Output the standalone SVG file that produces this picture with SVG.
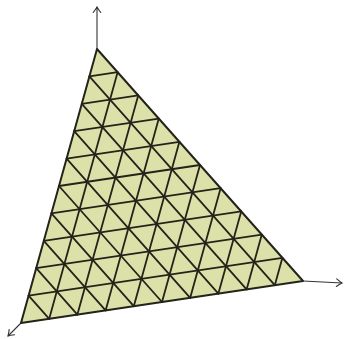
<svg xmlns="http://www.w3.org/2000/svg" width="345" height="339" viewBox="0 0 345 339">
  <style>
    .axis { stroke: #333; stroke-width: 1.1; fill: none; }
    .grid line { stroke: #23231a; stroke-width: 1.8; stroke-linecap: round; }
    .tri { fill: #dce1aa; stroke: #23231a; stroke-width: 2; stroke-linejoin: round; }
  </style>
  <defs>
    <marker id="arr" markerUnits="userSpaceOnUse" viewBox="-7 -5 9 10" markerWidth="9" markerHeight="10" refX="0" refY="0" orient="auto">
      <path d="M-5.5,-3.8 Q-1.8,-0.9 0,0 Q-1.8,0.9 -5.5,3.8" fill="none" stroke="#333" stroke-width="1.1" stroke-linecap="round"/>
    </marker>
  </defs>
  <g id="axes">
    <line class="axis" x1="97" y1="49" x2="97" y2="7" marker-end="url(#arr)"/>
    <line class="axis" x1="303" y1="281" x2="342" y2="283" marker-end="url(#arr)"/>
    <line class="axis" x1="21" y1="323" x2="8" y2="336" marker-end="url(#arr)"/>
  </g>
  <g id="triangle">
    <polygon class="tri" points="97,49 303,281 21,323"/>
  </g>
  <g id="grid" class="grid">
    <line x1="89.4" y1="76.4" x2="117.6" y2="72.2"/>
    <line x1="81.8" y1="103.8" x2="138.2" y2="95.4"/>
    <line x1="74.2" y1="131.2" x2="158.8" y2="118.6"/>
    <line x1="66.6" y1="158.6" x2="179.4" y2="141.8"/>
    <line x1="59" y1="186" x2="200" y2="165"/>
    <line x1="51.4" y1="213.4" x2="220.6" y2="188.2"/>
    <line x1="43.8" y1="240.8" x2="241.2" y2="211.4"/>
    <line x1="36.2" y1="268.2" x2="261.8" y2="234.6"/>
    <line x1="28.6" y1="295.6" x2="282.4" y2="257.8"/>

    <line x1="282.4" y1="257.8" x2="274.8" y2="285.2"/>
    <line x1="261.8" y1="234.6" x2="246.6" y2="289.4"/>
    <line x1="241.2" y1="211.4" x2="218.4" y2="293.6"/>
    <line x1="220.6" y1="188.2" x2="190.2" y2="297.8"/>
    <line x1="200" y1="165" x2="162" y2="302"/>
    <line x1="179.4" y1="141.8" x2="133.8" y2="306.2"/>
    <line x1="158.8" y1="118.6" x2="105.6" y2="310.4"/>
    <line x1="138.2" y1="95.4" x2="77.4" y2="314.6"/>
    <line x1="117.6" y1="72.2" x2="49.2" y2="318.8"/>

    <line x1="28.6" y1="295.6" x2="49.2" y2="318.8"/>
    <line x1="36.2" y1="268.2" x2="77.4" y2="314.6"/>
    <line x1="43.8" y1="240.8" x2="105.6" y2="310.4"/>
    <line x1="51.4" y1="213.4" x2="133.8" y2="306.2"/>
    <line x1="59" y1="186" x2="162" y2="302"/>
    <line x1="66.6" y1="158.6" x2="190.2" y2="297.8"/>
    <line x1="74.2" y1="131.2" x2="218.4" y2="293.6"/>
    <line x1="81.8" y1="103.8" x2="246.6" y2="289.4"/>
    <line x1="89.4" y1="76.4" x2="274.8" y2="285.2"/>
  </g>
</svg>
